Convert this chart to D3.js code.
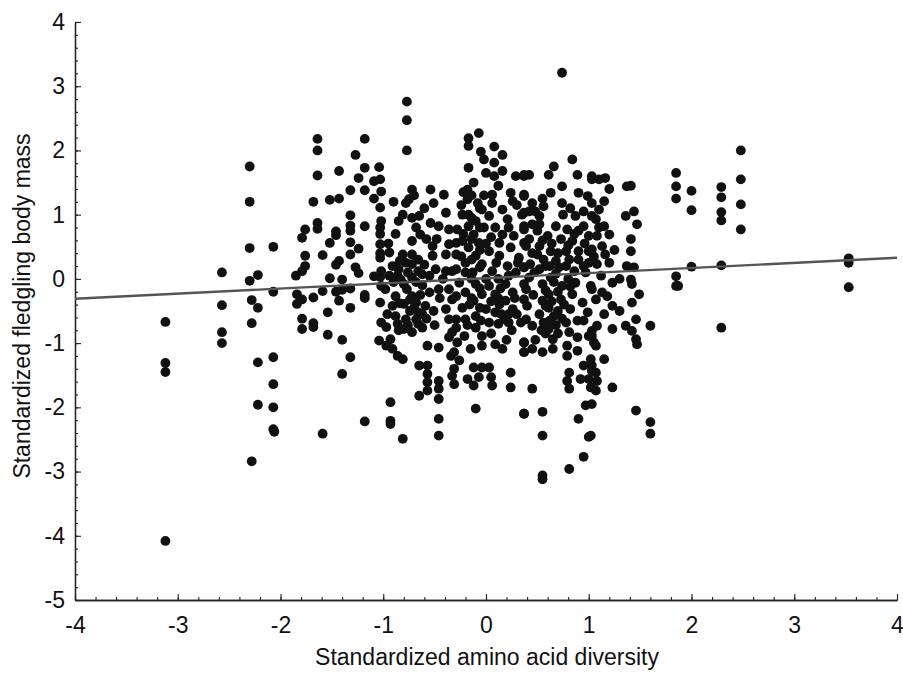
<!DOCTYPE html>
<html><head><meta charset="utf-8">
<script src="https://cdn.jsdelivr.net/npm/d3@7"></script>
<style>body{margin:0;background:#fff}svg{display:block}</style>
</head><body>
<svg id="c" width="903" height="673"></svg>
<script>
const xTicks = [-4,-3,-2,-1,0,1,2,3,4];
const yTicks = [-5,-4,-3,-2,-1,0,1,2,3,4];
const xTitle = "Standardized amino acid diversity";
const yTitle = "Standardized fledgling body mass";
const fitIntercept = 0.01;
const fitSlope = 0.08;
// [amino acid diversity, fledgling body mass]
const observations = [
[-3.12,-0.67],[-3.12,-1.31],[-3.12,-1.45],[-3.12,-4.08],
[-2.57,0.10],[-2.57,-0.41],[-2.57,-0.83],[-2.57,-1.0],
[-2.30,1.75],[-2.30,1.20],[-2.30,0.48],[-2.30,-0.03],
[-2.28,-0.33],[-2.28,-0.69],[-2.28,-2.84],
[-2.22,0.06],[-2.22,-0.45],[-2.22,-1.30],[-2.22,-1.96],
[-2.07,0.50],[-2.07,-0.20],[-2.07,-1.22],[-2.07,-1.64],[-2.07,-2.0],[-2.07,-2.34],[-2.06,-2.38],
[-1.64,2.18],[-1.64,2.0],[-1.18,2.18],[-1.27,1.93],[-1.18,1.73],[-1.04,1.74],[-1.64,1.61],[-1.43,1.68],
[-1.24,1.57],[-1.09,1.52],[-1.03,1.55],[-1.32,1.38],[-1.18,1.38],[-1.09,1.25],[-1.68,1.20],[-1.52,1.23],
[-1.43,1.25],[-1.03,1.11],[-1.32,0.99],[-1.64,0.87],[-1.64,0.78],[-1.76,0.77],[-1.79,0.64],[-1.46,0.74],
[-1.46,0.68],[-1.32,0.83],[-1.32,0.75],[-1.18,0.82],[-1.03,0.80],[-1.03,0.70],[-1.52,0.56],[-1.32,0.57],
[-1.03,0.54],[-1.24,0.47],[-1.32,0.38],[-1.03,0.40],[-1.03,0.33],[-1.76,0.36],[-1.59,0.37],[-1.43,0.28],
[-1.46,0.22],[-1.27,0.18],[-1.24,0.09],[-1.76,0.20],[-1.79,0.12],[-1.85,0.05],[-1.52,0.01],[-1.40,-0.01],
[-1.09,0.04],[-1.03,0.03],[-1.59,-0.19],[-1.46,-0.20],[-1.40,-0.17],[-1.32,-0.15],[-1.84,-0.24],[-1.79,-0.32],
[-1.84,-0.39],[-1.68,-0.29],[-1.43,-0.34],[-1.18,-0.25],[-1.18,-0.30],[-1.03,-0.37],[-1.32,-0.45],[-1.54,-0.52],
[-1.79,-0.62],[-1.79,-0.78],[-1.68,-0.69],[-1.68,-0.75],[-1.54,-0.87],[-1.40,-0.95],[-1.04,-0.96],[-1.32,-1.22],
[-1.40,-1.48],[-1.18,-2.22],[-1.59,-2.41],
[-1.02,1.36],[-1.02,0.90],[-1.02,0.12],[-1.02,-0.11],[-1.02,-0.68],[-0.97,-0.75],[-0.97,-1.04],
[-0.77,2.76],[-0.77,2.47],[-0.77,2.00],
[-0.72,1.39],[-0.75,1.24],[-0.54,1.39],[-0.41,1.31],[-0.51,1.18],[-0.81,1.00],[-0.72,0.95],[-0.65,0.98],
[-0.39,1.03],[-0.54,0.87],[-0.46,0.82],[-0.36,0.77],[-0.64,0.69],[-0.72,0.59],[-0.52,0.51],[-0.36,0.54],
[-0.29,0.56],[-0.94,0.41],[-0.81,0.38],[-0.72,0.38],[-0.52,0.36],[-0.39,0.38],[-0.91,0.20],[-0.85,0.15],
[-0.72,0.23],[-0.62,0.07],[-0.49,0.15],[-0.39,0.12],[-0.29,0.15],[-0.94,0.05],[-0.83,-0.01],[-0.72,0.02],
[-0.98,-0.16],[-0.88,-0.27],[-0.77,-0.16],[-0.72,-0.27],[-0.55,-0.21],[-0.46,-0.16],[-0.36,-0.16],[-0.29,-0.27],
[-0.91,-0.42],[-0.80,-0.39],[-0.68,-0.37],[-0.59,-0.42],[-0.51,-0.50],[-0.39,-0.47],[-0.88,-0.58],[-0.78,-0.63],
[-0.68,-0.63],[-0.36,-0.63],[-0.80,-0.78],[-0.72,-0.83],[-0.62,-0.76],[-0.29,-0.76],[-0.93,-0.94],[-0.91,-1.09],
[-0.36,-0.91],[-0.86,-1.20],[-0.81,-1.25],[-0.57,-1.04],[-0.46,-1.07],[-0.34,-1.20],[-0.65,-1.35],[-0.57,-1.35],
[-0.57,-1.48],[-0.31,-1.40],[-0.57,-1.61],[-0.57,-1.74],[-0.65,-1.82],[-0.46,-1.71],[-0.46,-1.87],[-0.46,-1.59],
[-0.93,-1.92],[-0.93,-2.21],[-0.93,-2.26],[-0.46,-2.18],[-0.46,-2.44],[-0.81,-2.49],
[-0.07,2.27],[-0.17,2.19],[-0.17,2.07],[0.08,2.06],[0.16,1.93],[-0.02,1.86],[0.08,1.81],[-0.17,1.73],
[0.16,1.68],[0.08,1.60],[0.29,1.60],[0.37,1.60],[-0.12,1.50],[-0.18,1.39],[0.06,1.31],[0.24,1.34],
[0.37,1.31],[-0.18,1.24],[-0.08,1.18],[0.06,1.18],[0.26,1.21],[0.16,1.08],[-0.04,1.08],[-0.17,1.00],
[-0.23,1.00],[0.03,0.98],[0.35,1.00],[-0.10,0.90],[0.21,0.93],[-0.17,0.82],[-0.28,0.77],[0.09,0.80],
[0.37,0.82],[-0.12,0.69],[0.16,0.69],[0.27,0.67],[-0.23,0.59],[-0.07,0.56],[0.13,0.56],[0.37,0.56],
[-0.17,0.49],[0.03,0.43],[0.24,0.49],[-0.29,0.38],[-0.10,0.36],[0.13,0.36],[0.32,0.33],[-0.20,0.25],
[-0.04,0.23],[0.21,0.20],[0.37,0.18],[-0.33,0.12],[-0.13,0.10],[0.06,0.12],[0.29,0.10],[-0.26,-0.06],
[-0.10,-0.08],[0.03,-0.11],[0.19,-0.08],[0.37,-0.08],[-0.20,-0.21],[-0.04,-0.24],[0.09,-0.24],[0.26,-0.21],
[-0.33,-0.32],[-0.12,-0.34],[0.19,-0.34],[0.37,-0.32],[-0.23,-0.45],[0.00,-0.47],[0.09,-0.52],[0.26,-0.47],
[-0.10,-0.58],[-0.29,-0.63],[-0.20,-0.63],[0.03,-0.68],[0.18,-0.63],[0.34,-0.68],[-0.10,-0.76],[-0.33,-0.83],
[-0.21,-0.89],[-0.04,-0.89],[-0.28,-0.99],[-0.15,-1.09],[-0.04,-1.04],[0.09,-1.02],[0.16,-1.09],[0.37,-0.99],
[0.37,-1.14],[-0.31,-1.14],[-0.26,-1.27],[-0.12,-1.38],[-0.04,-1.38],[0.03,-1.38],[0.24,-1.46],[-0.33,-1.51],
[-0.18,-1.56],[-0.07,-1.53],[0.05,-1.53],[-0.31,-1.64],[-0.12,-1.66],[0.06,-1.66],[0.24,-1.69],[-0.10,-2.02],
[0.37,-2.10],
[0.74,3.21],[0.84,1.86],[0.66,1.75],[0.37,1.62],[0.42,1.62],[0.61,1.62],[0.89,1.62],[1.03,1.60],
[0.74,1.44],[0.63,1.34],[0.37,1.29],[0.90,1.34],[0.99,1.29],[0.45,1.18],[0.74,1.18],[0.56,1.13],
[0.37,1.03],[0.87,0.98],[1.03,0.98],[0.52,0.98],[0.45,0.85],[0.68,0.82],[0.79,0.77],[0.95,0.82],
[0.37,0.77],[0.60,0.67],[0.73,0.62],[0.84,0.59],[1.00,0.67],[0.39,0.51],[0.52,0.51],[0.63,0.43],
[0.78,0.43],[0.90,0.43],[1.00,0.43],[0.56,0.30],[0.68,0.28],[0.81,0.30],[0.43,0.23],[0.37,0.18],
[1.00,0.25],[0.52,0.15],[0.71,0.18],[0.86,0.12],[0.97,0.10],[0.42,0.02],[0.63,0.02],[0.55,-0.08],
[0.74,-0.11],[0.87,-0.06],[1.02,-0.11],[0.39,-0.16],[0.61,-0.24],[0.84,-0.24],[0.55,-0.34],[0.73,-0.32],
[0.94,-0.37],[0.40,-0.42],[0.61,-0.45],[0.82,-0.47],[0.52,-0.55],[0.66,-0.58],[0.99,-0.52],[0.39,-0.63],
[0.56,-0.68],[0.78,-0.68],[0.89,-0.65],[0.45,-0.73],[0.61,-0.78],[0.81,-0.83],[1.03,-0.81],[0.65,-0.94],
[0.89,-0.91],[1.00,-0.89],[0.37,-0.99],[0.79,-1.04],[1.05,-0.99],[0.45,-1.09],[0.65,-1.09],[0.89,-1.12],
[0.37,-1.14],[0.55,-1.14],[0.79,-1.20],[1.02,-1.25],[0.81,-1.46],[0.95,-1.35],[1.03,-1.43],[0.79,-1.59],
[0.92,-1.56],[1.00,-1.56],[0.81,-1.71],[1.02,-1.69],[0.45,-1.71],[0.97,-1.97],[0.90,-2.18],[0.37,-2.10],
[0.55,-2.07],[0.55,-2.44],[1.00,-2.46],[0.95,-2.77],[0.81,-2.96],[0.55,-3.06],[0.55,-3.12],
[1.03,1.55],[1.16,1.57],[1.10,1.55],[1.37,1.44],[1.41,1.45],[1.15,1.21],[1.03,1.18],[1.10,1.08],
[1.36,0.98],[1.44,1.05],[1.47,0.85],[1.07,0.93],[1.15,0.82],[1.20,0.69],[1.08,0.67],[1.41,0.62],
[1.13,0.51],[1.03,0.46],[1.41,0.43],[1.16,0.38],[1.20,0.25],[1.08,0.23],[1.37,0.20],[1.44,0.18],
[1.23,-0.06],[1.41,-0.01],[1.42,-0.08],[1.03,-0.16],[1.13,-0.21],[1.18,-0.27],[1.49,-0.24],[1.42,-0.37],
[1.23,-0.42],[1.07,-0.32],[1.46,-0.63],[1.08,-0.73],[1.23,-0.78],[1.36,-0.73],[1.60,-0.73],[1.42,-0.81],
[1.03,-0.89],[1.46,-0.94],[1.47,-1.02],[1.07,-1.04],[1.03,-1.35],[1.07,-1.46],[1.08,-1.59],[1.23,-1.69],
[1.07,-1.74],[1.03,-1.95],[1.46,-2.05],[1.60,-2.23],[1.60,-2.41],[1.02,-2.44],
[1.85,1.65],[1.85,1.44],[1.85,1.25],[2.00,1.37],[2.00,1.07],[2.29,1.43],[2.29,1.27],[2.29,1.04],
[2.29,0.91],[2.48,2.00],[2.48,1.55],[2.48,1.16],[2.48,0.77],[1.85,0.04],[1.85,-0.11],[1.87,-0.11],
[2.00,0.19],[2.29,0.21],[2.29,-0.76],[3.53,0.32],[3.53,0.25],[3.53,-0.13],
[-0.14,1.30],[-0.06,1.10],[-0.14,0.95],[-0.06,0.80],[-0.14,0.62],[-0.06,0.45],[-0.14,0.30],[-0.06,0.18],
[-0.14,0.00],[-0.06,-0.15],[-0.14,-0.30],[-0.06,-0.45],
[-0.84,0.28],[-0.78,0.25],[-0.66,0.30],[-0.60,0.22],[-0.55,0.05],[-0.68,-0.05],[-0.80,-0.08],[-0.62,-0.10],
[-0.70,-0.45],[-0.62,-0.55],[-0.74,-0.50],[-0.66,-0.70],[-0.58,-0.62],[-0.50,-0.72],[-0.45,-0.30],[-0.42,0.00],
[-0.48,0.62],[-0.58,0.62],[-0.68,0.80],[-0.60,1.10],[-0.78,1.18],[-0.70,1.30],
[0.05,-0.35],[0.13,-0.40],[0.22,-0.55],[0.12,-0.70],[0.25,-0.80],[0.05,-0.85],[0.20,-0.95],[0.30,-0.55],
[0.14,-0.15],[0.28,-0.30],[0.00,0.00],[0.12,0.00],[0.22,0.05],[0.31,0.25],[0.10,0.25],[0.05,0.65],
[0.22,0.80],[0.30,1.15],[0.12,1.45],[0.00,1.65],[-0.05,1.98],
[0.64,0.55],[0.70,0.40],[0.62,0.20],[0.68,0.08],[0.66,-0.05],[0.70,-0.20],[0.64,-0.35],[0.70,-0.50],
[0.68,-0.72],[0.70,-0.85],[0.58,-0.85],[0.50,0.75],[0.48,1.05],[0.55,1.25],[0.50,0.38],[0.46,-0.25],
[0.48,-0.95],[0.75,1.00],[0.80,0.00],[0.82,-0.12],[0.90,0.75],[0.95,0.20],[0.95,-0.65],
[-0.95,0.55],[-0.88,0.70],[-0.90,-0.05],[-0.96,-0.55],[-0.85,-0.80],[-0.85,0.90],[-0.90,1.20],
[1.12,0.05],[1.25,0.45],[1.30,0.00],[1.15,-0.55],[1.30,-0.50],[1.20,1.40],[1.15,-1.25],
[-0.86,0.05],[-0.76,0.10],[-0.66,0.12],[-0.84,-0.38],[-0.74,-0.32],[-0.64,-0.25],[-0.86,-0.70],[-0.76,-0.72],[-0.66,-0.52],
[-0.22,1.35],[-0.24,1.15],[-0.02,1.30],[-0.22,0.70],[-0.02,0.80],[-0.24,0.35],[0.00,0.55],[-0.20,0.10],
[0.42,1.05],[0.52,0.85],[0.42,0.62],[0.55,0.60],[0.45,0.40],[0.58,0.20],[0.47,0.10],
[0.58,-0.18],[0.76,-0.40],[0.58,-0.42],[0.74,-0.62],[0.62,-0.65],[0.54,-0.80],
[0.82,1.10],[0.95,1.05],[1.10,0.80],[0.86,0.70],[0.96,0.55],[0.80,0.52],[1.05,0.35],[0.90,0.30],[0.78,0.20],
[-0.16,-0.40],[0.12,-0.30],[-0.05,-0.65],[0.15,-0.55],[-0.18,-0.72],[0.22,-0.68]
];

const svg = d3.select("#c");
const x = d3.scaleLinear().domain([-4,4]).range([75,897]);
const y = d3.scaleLinear().domain([-5,4]).range([600,22]);
const font = "Liberation Sans, Arial, sans-serif";
const fs = 23;

const xAxis = d3.axisBottom(x).tickValues(d3.range(-4,4.001,0.2)).tickSize(-3).tickSizeOuter(0).tickFormat("");
const xAxisMaj = d3.axisBottom(x).tickValues(xTicks).tickSize(-6).tickSizeOuter(0).tickPadding(17).tickFormat(d => String(d));
const yAxis = d3.axisLeft(y).tickValues(d3.range(-5,4.001,0.2)).tickSize(-3).tickSizeOuter(0).tickFormat("");
const yAxisMaj = d3.axisLeft(y).tickValues(yTicks).tickSize(-6).tickSizeOuter(0).tickPadding(10).tickFormat(d => String(d));

function style(g){
  g.select(".domain").attr("stroke","#222").attr("stroke-width",1.3);
  g.selectAll(".tick line").attr("stroke","#222").attr("stroke-width",1.1);
  g.selectAll("text").attr("font-family",font).attr("font-size",fs).attr("fill","#111");
}
svg.append("g").attr("transform","translate(0,600)").call(xAxis).call(style);
svg.append("g").attr("transform","translate(0,600)").call(xAxisMaj).call(style);
svg.append("g").attr("transform","translate(75,0)").call(yAxis).call(style);
svg.append("g").attr("transform","translate(75,0)").call(yAxisMaj).call(style);

svg.append("g").selectAll("circle").data(observations).join("circle")
  .attr("cx",d=>x(d[0])).attr("cy",d=>y(d[1])).attr("r",4.9).attr("fill","#111");

svg.append("line")
  .attr("x1",x(-4)).attr("y1",y(fitIntercept+fitSlope*-4))
  .attr("x2",x(4)).attr("y2",y(fitIntercept+fitSlope*4))
  .attr("stroke","#555").attr("stroke-width",2.4);

svg.append("text").attr("x",487).attr("y",665).attr("text-anchor","middle")
  .attr("font-family",font).attr("font-size",fs).attr("fill","#111").text(xTitle);
svg.append("text").attr("transform","translate(30,306) rotate(-90)").attr("text-anchor","middle")
  .attr("font-family",font).attr("font-size",fs).attr("fill","#111").text(yTitle);
</script>
</body></html>
